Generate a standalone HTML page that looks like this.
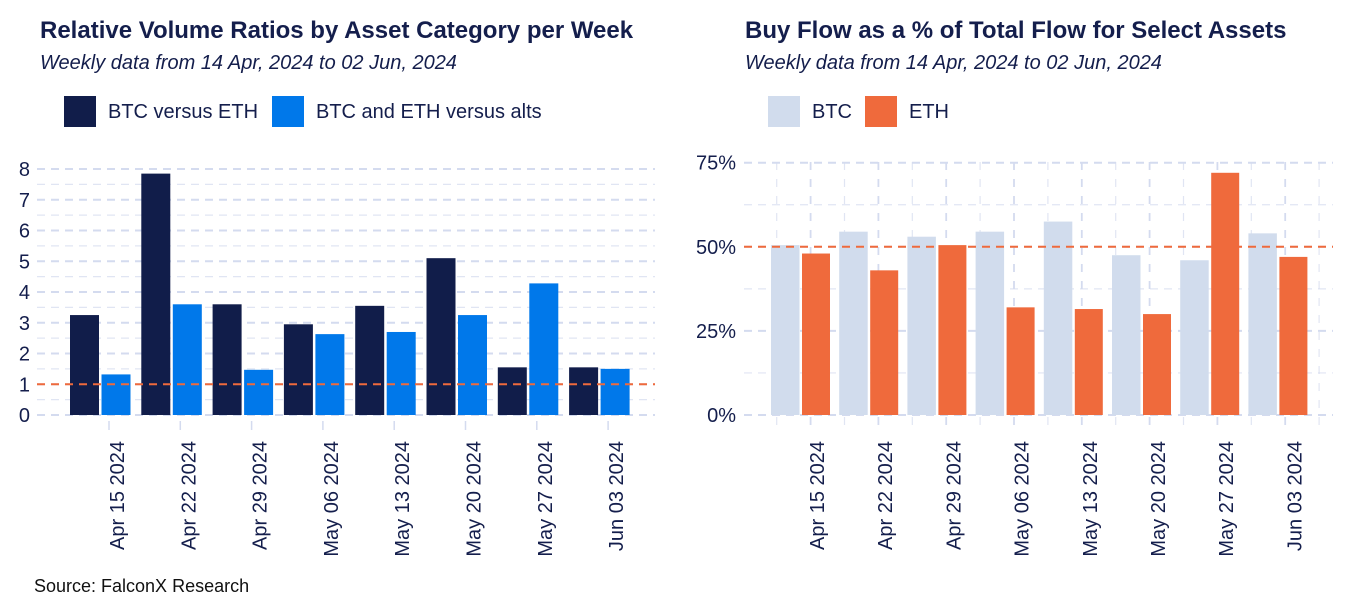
<!DOCTYPE html>
<html><head><meta charset="utf-8"><style>
body{margin:0;background:#fff;font-family:"Liberation Sans",Arial,sans-serif;}
svg text{font-family:"Liberation Sans",Arial,sans-serif;}
</style></head><body>
<svg id="c" width="1350" height="600" viewBox="0 0 1350 600" xmlns="http://www.w3.org/2000/svg">
<rect width="1350" height="600" fill="#fff"/>
<text x="40" y="38" font-size="24" font-weight="bold" fill="#141e4c">Relative Volume Ratios by Asset Category per Week</text>
<text x="40" y="69" font-size="20" font-style="italic" fill="#141e4c">Weekly data from 14 Apr, 2024 to 02 Jun, 2024</text>
<rect x="64" y="96" width="32" height="31" fill="#111d4a"/>
<text x="108" y="118" font-size="20" fill="#141e4c">BTC versus ETH</text>
<rect x="272" y="96" width="32" height="31" fill="#0078ea"/>
<text x="316" y="118" font-size="20" fill="#141e4c">BTC and ETH versus alts</text>

<text x="745" y="38" font-size="24" font-weight="bold" fill="#141e4c">Buy Flow as a % of Total Flow for Select Assets</text>
<text x="745" y="69" font-size="20" font-style="italic" fill="#141e4c">Weekly data from 14 Apr, 2024 to 02 Jun, 2024</text>
<rect x="768" y="96" width="32" height="31" fill="#d1dced"/>
<text x="812" y="118" font-size="20" fill="#141e4c">BTC</text>
<rect x="865" y="96" width="32" height="31" fill="#ef6a3c"/>
<text x="909" y="118" font-size="20" fill="#141e4c">ETH</text>

<text x="34" y="592" font-size="18" fill="#111">Source: FalconX Research</text>
<g id="L"></g><g id="R"></g>
</svg>
<script>
const weeks = ["Apr 15 2024","Apr 22 2024","Apr 29 2024","May 06 2024","May 13 2024","May 20 2024","May 27 2024","Jun 03 2024"];
const btcVsEth = [3.25, 7.85, 3.6, 2.95, 3.55, 5.1, 1.55, 1.55];
const majorsVsAlts = [1.32, 3.6, 1.47, 2.63, 2.7, 3.25, 4.28, 1.5];
const leftTicks = [0,1,2,3,4,5,6,7,8];
const btcBuy = [50.5, 54.5, 53, 54.5, 57.5, 47.5, 46, 54];
const ethBuy = [48, 43, 50.5, 32, 31.5, 30, 72, 47];
const rightTicks = [0,25,50,75];
const rightTickLabels = ["0%","25%","50%","75%"];
const leftRef = 1, rightRef = 50;

const NS="http://www.w3.org/2000/svg";
function mk(parent,tag,attrs){const e=document.createElementNS(NS,tag);for(const k in attrs)e.setAttribute(k,attrs[k]);parent.appendChild(e);return e;}
const grid="#d4dbef";

// LEFT
const L=document.getElementById('L');
const ly=v=>415-v*30.75;
const lx=i=>100+i*71.3;
for(let v=0;v<=8;v+=0.5){
  const g=mk(L,'line',{x1:37,x2:655,y1:ly(v),y2:ly(v),stroke:grid,'stroke-width':v%1===0?2:1.2,'stroke-dasharray':'8,6',opacity:v%1===0?1:0.7});
  
  
}
leftTicks.forEach(v=>{
  const t=mk(L,'text',{x:30,y:ly(v)+7,'font-size':20,'text-anchor':'end',fill:'#141e4c'});t.textContent=v;
  
  
});
weeks.forEach((w,i)=>{
  const c=lx(i);
  const b1=mk(L,'rect',{x:c-30,y:ly(btcVsEth[i]),width:29,height:ly(0)-ly(btcVsEth[i]),fill:'#111d4a'});
  
  
  const b2=mk(L,'rect',{x:c+1.5,y:ly(majorsVsAlts[i]),width:29,height:ly(0)-ly(majorsVsAlts[i]),fill:'#0078ea'});
  
  
  const tk=mk(L,'line',{x1:c+9,x2:c+9,y1:421,y2:430,stroke:grid,'stroke-width':1.5});
  
  
  const tx=mk(L,'text',{x:0,y:0,'font-size':20,'text-anchor':'end',fill:'#141e4c',transform:`translate(${c+24},441) rotate(-90)`});
  tx.textContent=w;
  
  
});
const lr=mk(L,'line',{x1:37,x2:655,y1:ly(leftRef),y2:ly(leftRef),stroke:'#ef6a3c','stroke-width':2,'stroke-dasharray':'8,6'});



// RIGHT
const R=document.getElementById('R');
const ry=v=>415-v*(415-162.7)/75;
const rx=i=>800+i*68.2;
for(let k=0;k<18;k++){
  const x=776.7+k*33.9;
  const g=mk(R,'line',{x1:x,x2:x,y1:162,y2:425,stroke:grid,'stroke-width':k%2?1.8:1.2,'stroke-dasharray':'8,9',opacity:k%2?1:0.7});
  
  
}
for(let v=0;v<=75;v+=12.5){
  const g=mk(R,'line',{x1:744,x2:1333,y1:ry(v),y2:ry(v),stroke:grid,'stroke-width':v%25===0?2:1.2,'stroke-dasharray':'8,6',opacity:v%25===0?1:0.7});
  
  
}
rightTicks.forEach((v,j)=>{
  const t=mk(R,'text',{x:736,y:ry(v)+7,'font-size':20,'text-anchor':'end',fill:'#141e4c'});t.textContent=rightTickLabels[j];
  
  
});
weeks.forEach((w,i)=>{
  const c=rx(i);
  const b1=mk(R,'rect',{x:c-29,y:ry(btcBuy[i]),width:28.5,height:ry(0)-ry(btcBuy[i]),fill:'#d1dced'});
  
  
  const b2=mk(R,'rect',{x:c+2,y:ry(ethBuy[i]),width:28,height:ry(0)-ry(ethBuy[i]),fill:'#ef6a3c'});
  
  
  const tx=mk(R,'text',{x:0,y:0,'font-size':20,'text-anchor':'end',fill:'#141e4c',transform:`translate(${c+24},441) rotate(-90)`});
  tx.textContent=w;
  
  
});
const rr=mk(R,'line',{x1:744,x2:1333,y1:ry(rightRef),y2:ry(rightRef),stroke:'#ef6a3c','stroke-width':2,'stroke-dasharray':'8,6'});


</script>
</body></html>
